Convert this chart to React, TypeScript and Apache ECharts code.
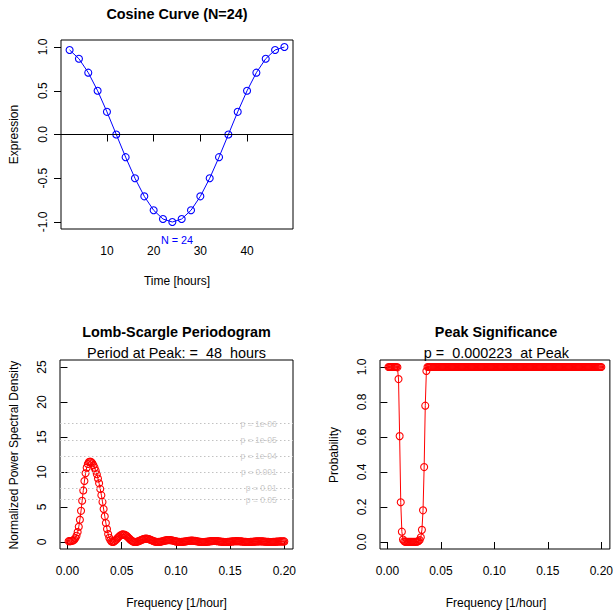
import React, { useEffect, useRef } from 'react';
import * as echarts from 'echarts';

// ---- Data ----
const time = [2, 4, 6, 8, 10, 12, 14, 16, 18, 20, 22, 24, 26, 28, 30, 32, 34, 36, 38, 40, 42, 44, 46, 48];
const expression = [
  0.966, 0.866, 0.707, 0.5, 0.259, 0, -0.259, -0.5, -0.707, -0.866, -0.966, -1,
  -0.966, -0.866, -0.707, -0.5, -0.259, 0, 0.259, 0.5, 0.707, 0.866, 0.966, 1,
];

// test frequencies are evenly spaced: (i + 1) * freqStep
const freqStep = 1 / 960;
const power = [
  0.120, 0.123, 0.134, 0.162, 0.224, 0.343, 0.551, 0.891, 1.414, 2.169,
  3.187, 4.454, 5.892, 7.362, 8.710, 9.815, 10.624, 11.144, 11.419, 11.500,
  11.433, 11.251, 10.978, 10.623, 10.190, 9.675, 9.074, 8.378, 7.584, 6.695,
  5.726, 4.708, 3.685, 2.714, 1.851, 1.139, 0.605, 0.249, 0.057, 0.000,
  0.046, 0.162, 0.321, 0.497, 0.672, 0.829, 0.956, 1.043, 1.083, 1.074,
  1.014, 0.910, 0.771, 0.611, 0.447, 0.294, 0.166, 0.073, 0.018, 0.000,
  0.016, 0.058, 0.119, 0.190, 0.265, 0.337, 0.398, 0.443, 0.470, 0.474,
  0.455, 0.415, 0.358, 0.289, 0.215, 0.144, 0.083, 0.037, 0.009, 0.000,
  0.008, 0.031, 0.065, 0.106, 0.150, 0.192, 0.230, 0.258, 0.276, 0.280,
  0.271, 0.249, 0.216, 0.176, 0.132, 0.089, 0.052, 0.023, 0.006, 0.000,
  0.005, 0.021, 0.043, 0.071, 0.100, 0.129, 0.155, 0.175, 0.188, 0.192,
  0.187, 0.173, 0.151, 0.123, 0.093, 0.063, 0.037, 0.017, 0.004, 0.000,
  0.004, 0.015, 0.032, 0.052, 0.074, 0.096, 0.116, 0.131, 0.142, 0.145,
  0.142, 0.131, 0.115, 0.094, 0.071, 0.049, 0.029, 0.013, 0.003, 0.000,
  0.003, 0.012, 0.025, 0.041, 0.059, 0.077, 0.093, 0.105, 0.114, 0.117,
  0.115, 0.107, 0.094, 0.078, 0.059, 0.040, 0.024, 0.011, 0.003, 0.000,
  0.003, 0.010, 0.021, 0.034, 0.049, 0.064, 0.078, 0.089, 0.097, 0.100,
  0.099, 0.092, 0.082, 0.067, 0.051, 0.035, 0.021, 0.009, 0.002, 0.000,
  0.002, 0.009, 0.018, 0.030, 0.043, 0.056, 0.068, 0.079, 0.086, 0.089,
  0.089, 0.084,
];
const probability = [
  1, 1, 1, 1, 1, 1, 1, 1, 0.998, 0.931,
  0.605, 0.227, 0.059, 0.0139, 0.00363, 0.0012, 0.000536, 0.000318, 0.000242, 0.000223,
  0.000238, 0.000286, 0.000376, 0.000536, 0.000827, 0.00138, 0.00252, 0.00505, 0.0111, 0.0269,
  0.0693, 0.181, 0.428, 0.779, 0.977, 1, 1, 1, 1, 1,
  1, 1, 1, 1, 1, 1, 1, 1, 1, 1, 1, 1, 1, 1, 1, 1, 1, 1, 1, 1,
  1, 1, 1, 1, 1, 1, 1, 1, 1, 1, 1, 1, 1, 1, 1, 1, 1, 1, 1, 1,
  1, 1, 1, 1, 1, 1, 1, 1, 1, 1, 1, 1, 1, 1, 1, 1, 1, 1, 1, 1,
  1, 1, 1, 1, 1, 1, 1, 1, 1, 1, 1, 1, 1, 1, 1, 1, 1, 1, 1, 1,
  1, 1, 1, 1, 1, 1, 1, 1, 1, 1, 1, 1, 1, 1, 1, 1, 1, 1, 1, 1,
  1, 1, 1, 1, 1, 1, 1, 1, 1, 1, 1, 1, 1, 1, 1, 1, 1, 1, 1, 1,
  1, 1, 1, 1, 1, 1, 1, 1, 1, 1, 1, 1, 1, 1, 1, 1, 1, 1, 1, 1,
  1, 1, 1, 1, 1, 1, 1, 1, 1, 1, 1, 1,
];
const thresholdValues = [16.91, 14.6, 12.3, 10.0, 7.69, 6.06];
const thresholdLabels = ['p = 1e-06', 'p = 1e-05', 'p = 1e-04', 'p = 0.001', 'p = 0.01', 'p = 0.05'];

const timeTicks = [10, 20, 30, 40];
const exprTicks = [-1, -0.5, 0, 0.5, 1];
const freqTicks = [0, 0.05, 0.1, 0.15, 0.2];
const powerTicks = [0, 5, 10, 15, 20, 25];
const probTicks = [0, 0.2, 0.4, 0.6, 0.8, 1];

const FONT = '"Liberation Sans", Arial, Helvetica, sans-serif';

function valAxis(gridIndex: number, min: number, max: number, ticks: number[], fmt: (v: number) => string, isY: boolean) {
  return {
    type: 'value',
    gridIndex,
    min,
    max,
    axisLine: { show: false },
    splitLine: { show: false },
    axisTick: { show: true, length: 7, customValues: ticks, lineStyle: { color: '#000', width: 1 } },
    axisLabel: {
      show: true,
      customValues: ticks,
      formatter: (v: number) => fmt(v),
      color: '#000',
      fontSize: 12,
      fontFamily: FONT,
      margin: isY ? 12 : 16,
      rotate: isY ? 90 : 0,
    },
  };
}

function txt(text: string, x: number, y: number, opts: any = {}) {
  return {
    type: 'text',
    x,
    y,
    rotation: opts.rot ? Math.PI / 2 : 0,
    silent: true,
    style: {
      text,
      font: `${opts.bold ? 'bold ' : ''}${opts.size || 12}px ${FONT}`,
      fill: opts.color || '#000',
      align: 'center',
      verticalAlign: 'middle',
      textAlign: 'center',
      textVerticalAlign: 'middle',
    },
  };
}

export default function App() {
  const ref = useRef<HTMLDivElement>(null);

  useEffect(() => {
    if (!ref.current) return;
    const chart = echarts.init(ref.current, null, { renderer: 'svg' });
    const freq = power.map((_, i) => (i + 1) * freqStep);
    const ringStyle = (c: string) => ({ color: 'rgba(0,0,0,0)', borderColor: c, borderWidth: 1.1 });

    const option: any = {
      animation: false,
      backgroundColor: '#fff',
      grid: [
        { left: 61, top: 40, width: 232, height: 189, show: true, borderColor: '#000', borderWidth: 1, backgroundColor: 'transparent' },
        { left: 60, top: 360, width: 233, height: 189, show: true, borderColor: '#000', borderWidth: 1, backgroundColor: 'transparent' },
        { left: 380, top: 360, width: 232, height: 189, show: true, borderColor: '#000', borderWidth: 1, backgroundColor: 'transparent' },
      ],
      xAxis: [
        valAxis(0, 0.16, 49.84, timeTicks, (v) => String(v), false),
        valAxis(1, -0.0069, 0.208, freqTicks, (v) => v.toFixed(2), false),
        valAxis(2, -0.0069, 0.208, freqTicks, (v) => v.toFixed(2), false),
      ],
      yAxis: [
        valAxis(0, -1.08, 1.08, exprTicks, (v) => v.toFixed(1), true),
        valAxis(1, -1, 26, powerTicks, (v) => String(v), true),
        valAxis(2, -0.04, 1.04, probTicks, (v) => v.toFixed(1), true),
      ],
      series: [
        {
          type: 'line',
          xAxisIndex: 0,
          yAxisIndex: 0,
          data: time.map((t, i) => [t, expression[i]]),
          symbol: 'circle',
          symbolSize: 7,
          lineStyle: { color: '#0000ff', width: 1 },
          itemStyle: ringStyle('#0000ff'),
          emphasis: { disabled: true },
          silent: true,
          markLine: {
            silent: true,
            symbol: 'none',
            label: { show: false },
            lineStyle: { color: '#000', type: 'solid', width: 1 },
            data: [{ yAxis: 0 }],
          },
        },
        {
          type: 'line',
          xAxisIndex: 1,
          yAxisIndex: 1,
          data: freq.map((f, i) => [f, power[i]]),
          symbol: 'circle',
          symbolSize: 7,
          lineStyle: { color: '#ff0000', width: 1 },
          itemStyle: ringStyle('#ff0000'),
          emphasis: { disabled: true },
          silent: true,
          markLine: {
            silent: true,
            symbol: 'none',
            label: { show: false },
            lineStyle: { color: '#c2c2c2', type: [1.5, 2.5], width: 1 },
            data: thresholdValues.map((v) => ({ yAxis: v })),
          },
        },
        {
          type: 'scatter',
          xAxisIndex: 1,
          yAxisIndex: 1,
          data: thresholdValues.map((v) => [0.1935, v]),
          symbol: 'circle',
          symbolSize: 1,
          itemStyle: { color: 'rgba(0,0,0,0)' },
          silent: true,
          label: {
            show: true,
            position: 'left',
            distance: 0,
            formatter: (p: any) => thresholdLabels[p.dataIndex],
            color: '#bdbdbd',
            fontSize: 8.5,
            fontFamily: FONT,
          },
        },
        {
          type: 'line',
          xAxisIndex: 2,
          yAxisIndex: 2,
          data: freq.map((f, i) => [f, probability[i]]),
          symbol: 'circle',
          symbolSize: 7,
          lineStyle: { color: '#ff0000', width: 1 },
          itemStyle: ringStyle('#ff0000'),
          emphasis: { disabled: true },
          silent: true,
        },
      ],
      graphic: [
        txt('Cosine Curve (N=24)', 177, 14, { bold: true, size: 14.4 }),
        txt('Expression', 13.5, 134.5, { rot: true }),
        txt('Time [hours]', 177, 281),
        txt('N = 24', 177, 239.5, { color: '#0000ff', size: 10.8 }),
        txt('Lomb-Scargle Periodogram', 176.5, 332.3, { bold: true, size: 14.4 }),
        txt('Period at Peak: =  48  hours', 176.5, 353.3, { size: 14.4 }),
        txt('Normalized Power Spectral Density', 13.5, 455, { rot: true }),
        txt('Frequency [1/hour]', 176.5, 602.7),
        txt('Peak Significance', 496, 332.3, { bold: true, size: 14.4 }),
        txt('p =  0.000223  at Peak', 496.4, 353.3, { size: 14.4 }),
        txt('Probability', 334, 455, { rot: true }),
        txt('Frequency [1/hour]', 496, 602.7),
      ],
    };

    chart.setOption(option);
    return () => chart.dispose();
  }, []);

  return <div ref={ref} style={{ position: 'fixed', left: 0, top: 0, width: 616, height: 614 }} />;
}
